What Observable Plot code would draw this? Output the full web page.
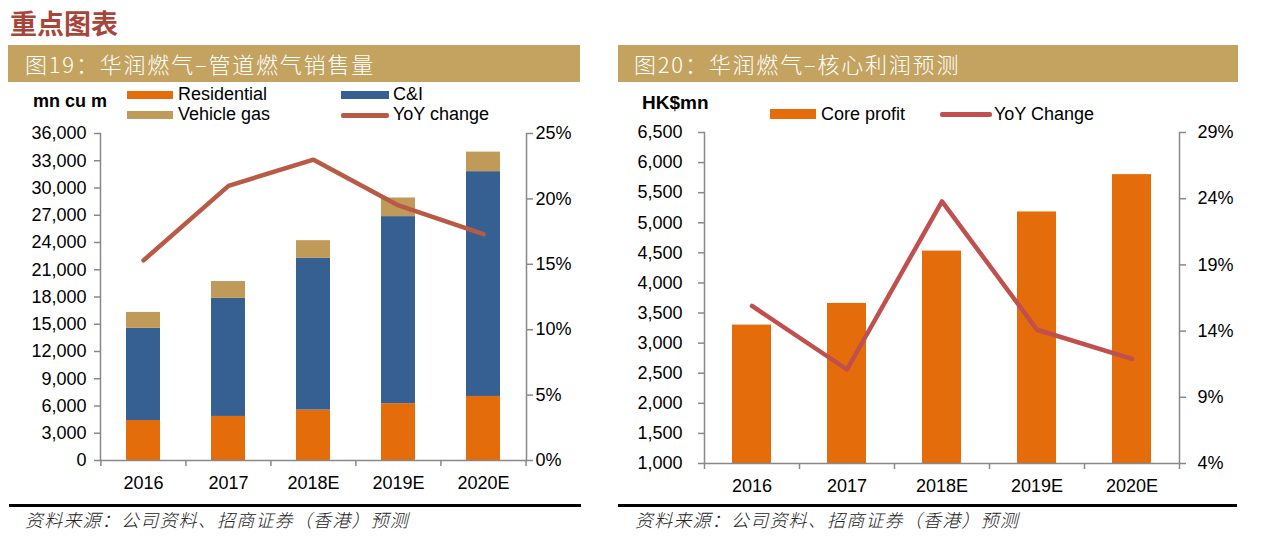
<!DOCTYPE html>
<html><head><meta charset="utf-8">
<script src="https://cdn.jsdelivr.net/npm/d3@7"></script>
<script src="https://cdn.jsdelivr.net/npm/@observablehq/plot@0.6"></script>
<style>
body{margin:0;background:#fff;}
#page{position:relative;width:1264px;height:555px;overflow:hidden;background:#fff;font-family:"Liberation Sans",Arial,sans-serif;color:#000;}
.abs{position:absolute;white-space:nowrap;}
.cjk{font-family:"Noto Sans CJK SC","Noto Sans CJK TC",sans-serif;}
.band{position:absolute;background:#C3A35F;color:#fff;font-size:22px;line-height:37px;height:37px;letter-spacing:1.8px;font-weight:300;}
.leg{position:absolute;font-size:18px;line-height:20px;white-space:nowrap;}
.sw{position:absolute;}
.rule{position:absolute;background:#000;height:3px;}
.foot{position:absolute;font-size:18px;line-height:24px;font-style:italic;letter-spacing:1.2px;color:#222;white-space:nowrap;font-weight:300;}
svg{position:absolute;}
</style></head><body><div id="page"></div>
<script>
// ---------- data ----------
const years = ["2016","2017","2018E","2019E","2020E"];
const seriesNames = ["Residential","C&I","Vehicle gas"];
const residential = [4400,4850,5550,6250,7050];
const commercialIndustrial = [10150,13000,16700,20600,24750];
const vehicleGas = [1750,1850,1950,2050,2150];
const volumeYoY = [0.153,0.210,0.230,0.195,0.173];
const coreProfit = [3300,3660,4530,5180,5800];
const profitYoY = [0.159,0.111,0.238,0.141,0.119];
const volumeTicks = [0,3000,6000,9000,12000,15000,18000,21000,24000,27000,30000,33000,36000];
const volumePctTicks = [0,0.05,0.10,0.15,0.20,0.25];
const profitTicks = [1000,1500,2000,2500,3000,3500,4000,4500,5000,5500,6000,6500];
const profitPctTicks = [0.04,0.09,0.14,0.19,0.24,0.29];
const seriesColors = ["#E46C0A","#376092","#C09A58"];
const volumeLineColor = "#B85A45";
const profitBarColor = "#E46C0A";
const profitLineColor = "#C0504D";
const axisGrey = "#898989";

const page = document.getElementById("page");
function el(cls, style, text){
  const d = document.createElement("div");
  d.className = cls; Object.assign(d.style, style);
  if (text != null) d.textContent = text;
  page.appendChild(d); return d;
}

// ---------- titles ----------
el("abs cjk", {left:"10px", top:"5px", fontSize:"27px", fontWeight:"bold", color:"#A8453A", lineHeight:"36px"}, "重点图表");
el("band cjk", {left:"8px", top:"45px", width:"555px", paddingLeft:"17px"}, "图19：华润燃气–管道燃气销售量");
el("band cjk", {left:"618px", top:"45px", width:"604px", paddingLeft:"16px"}, "图20：华润燃气–核心利润预测");

// ---------- legends ----------
el("leg", {left:"33px", top:"91px", fontWeight:"bold"}, "mn cu m");
el("sw", {left:"127px", top:"91px", width:"46px", height:"8px", background:seriesColors[0]});
el("leg", {left:"178px", top:"84px"}, seriesNames[0]);
el("sw", {left:"341px", top:"91px", width:"48px", height:"8px", background:seriesColors[1]});
el("leg", {left:"393px", top:"84px"}, seriesNames[1]);
el("sw", {left:"127px", top:"111px", width:"46px", height:"8px", background:seriesColors[2]});
el("leg", {left:"178px", top:"104px"}, seriesNames[2]);
el("sw", {left:"341px", top:"113px", width:"48px", height:"4.5px", background:volumeLineColor, borderRadius:"2px"});
el("leg", {left:"393px", top:"104px"}, "YoY change");

el("leg", {left:"642px", top:"93px", fontWeight:"bold", fontSize:"19px"}, "HK$mn");
el("sw", {left:"770px", top:"109px", width:"46px", height:"10px", background:profitBarColor});
el("leg", {left:"821px", top:"104px"}, "Core profit");
el("sw", {left:"940px", top:"112px", width:"52px", height:"4.5px", background:profitLineColor, borderRadius:"2px"});
el("leg", {left:"994px", top:"104px"}, "YoY Change");

// ---------- footer ----------
el("rule", {left:"9px", top:"504px", width:"572px"});
el("rule", {left:"618px", top:"504px", width:"619px"});
el("foot cjk", {left:"25px", top:"507px"}, "资料来源：公司资料、招商证券（香港）预测");
el("foot cjk", {left:"635px", top:"507px"}, "资料来源：公司资料、招商证券（香港）预测");

// ---------- charts ----------
const baseStyle = {fontSize:"18px", fontFamily:"Liberation Sans, Arial, sans-serif", color:"#000", background:"transparent", overflow:"visible"};

function place(svg, left, top){
  svg.style.position = "absolute"; svg.style.left = left + "px"; svg.style.top = top + "px";
  svg.style.maxWidth = "none";
  page.appendChild(svg);
}

// Left chart: stacked volume + YoY
const volData = years.flatMap((y,i)=>[
  {year:y, series:seriesNames[0], value:residential[i]},
  {year:y, series:seriesNames[1], value:commercialIndustrial[i]},
  {year:y, series:seriesNames[2], value:vehicleGas[i]}
]);
const volYoY = years.map((y,i)=>({year:y, yoy:volumeYoY[i]}));
const L = {width:600, height:385, marginLeft:100, marginRight:74, marginTop:13, marginBottom:45};
const stepL = (L.width - L.marginLeft - L.marginRight) / years.length;

const leftBars = Plot.plot({
  ...L, style:baseStyle,
  x:{type:"band", domain:years, paddingInner:0.6, paddingOuter:0.3},
  y:{domain:[0,36000]},
  color:{domain:seriesNames, range:seriesColors},
  marks:[
    Plot.barY(volData, {x:"year", y:"value", fill:"series"}),
    Plot.axisY({ticks:volumeTicks, tickFormat:d3.format(","), tickSize:6, tickPadding:8, stroke:axisGrey, strokeWidth:1.5, fill:"#000", label:null}),
    Plot.axisX({ticks:years, tickSize:6, tickFormat:()=>"", dx:-stepL/2, stroke:axisGrey, strokeWidth:1.5, label:null}),
    Plot.axisX({ticks:[years[years.length-1]], tickSize:6, tickFormat:()=>"", dx:stepL/2, stroke:axisGrey, strokeWidth:1.5, label:null}),
    Plot.axisX({tickSize:0, tickPadding:16, fill:"#000", label:null}),
    Plot.frame({anchor:"left", stroke:axisGrey, strokeWidth:1.5}),
    Plot.frame({anchor:"bottom", stroke:axisGrey, strokeWidth:1.5})
  ]
});
place(leftBars, 0, 120);

const leftLine = Plot.plot({
  ...L, style:baseStyle,
  x:{type:"band", domain:years, paddingInner:0.6, paddingOuter:0.3, axis:null},
  y:{domain:[0,0.25]},
  marks:[
    Plot.axisY({anchor:"right", ticks:volumePctTicks, tickFormat:d3.format(".0%"), tickSize:6, tickPadding:3, stroke:axisGrey, strokeWidth:1.5, fill:"#000", label:null}),
    Plot.frame({anchor:"right", stroke:axisGrey, strokeWidth:1.5}),
    Plot.lineY(volYoY, {x:"year", y:"yoy", stroke:volumeLineColor, strokeWidth:4.5})
  ]
});
place(leftLine, 0, 120);

// Right chart: core profit + YoY
const profData = years.map((y,i)=>({year:y, value:coreProfit[i], yoy:profitYoY[i]}));
const R = {width:664, height:385, marginLeft:104, marginRight:85, marginTop:12, marginBottom:42};
const stepR = (R.width - R.marginLeft - R.marginRight) / years.length;

const rightBars = Plot.plot({
  ...R, style:baseStyle,
  x:{type:"band", domain:years, paddingInner:0.59, paddingOuter:0.295},
  y:{domain:[1000,6500]},
  marks:[
    Plot.barY(profData, {x:"year", y1:1000, y2:"value", fill:profitBarColor}),
    Plot.axisY({ticks:profitTicks, tickFormat:d3.format(","), tickSize:6, tickPadding:16, stroke:axisGrey, strokeWidth:1.5, fill:"#000", label:null}),
    Plot.axisX({ticks:years, tickSize:6, tickFormat:()=>"", dx:-stepR/2, stroke:axisGrey, strokeWidth:1.5, label:null}),
    Plot.axisX({ticks:[years[years.length-1]], tickSize:6, tickFormat:()=>"", dx:stepR/2, stroke:axisGrey, strokeWidth:1.5, label:null}),
    Plot.axisX({tickSize:0, tickPadding:16, fill:"#000", label:null}),
    Plot.frame({anchor:"left", stroke:axisGrey, strokeWidth:1.5}),
    Plot.frame({anchor:"bottom", stroke:axisGrey, strokeWidth:1.5})
  ]
});
place(rightBars, 600, 120);

const rightLine = Plot.plot({
  ...R, style:baseStyle,
  x:{type:"band", domain:years, paddingInner:0.59, paddingOuter:0.295, axis:null},
  y:{domain:[0.04,0.29]},
  marks:[
    Plot.axisY({anchor:"right", ticks:profitPctTicks, tickFormat:d3.format(".0%"), tickSize:6, tickPadding:12, stroke:axisGrey, strokeWidth:1.5, fill:"#000", label:null}),
    Plot.frame({anchor:"right", stroke:axisGrey, strokeWidth:1.5}),
    Plot.lineY(profData, {x:"year", y:"yoy", stroke:profitLineColor, strokeWidth:4.5})
  ]
});
place(rightLine, 600, 120);
</script></body></html>
